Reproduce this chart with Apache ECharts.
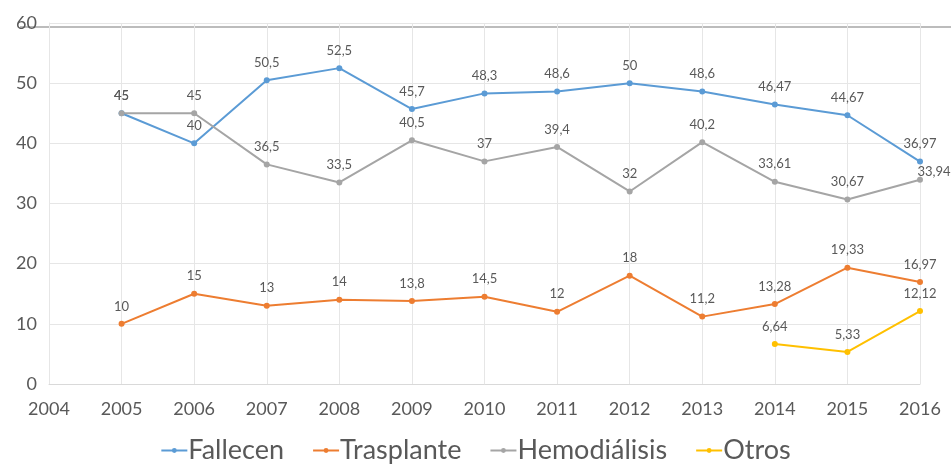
<!DOCTYPE html>
<html>
<head>
<meta charset="utf-8">
<script src="https://cdn.jsdelivr.net/npm/echarts@6/dist/echarts.min.js"></script>
<style>
  html, body { margin: 0; padding: 0; background: #fff; }
  #chart { width: 951px; height: 464px; }
</style>
</head>
<body>
<div id="chart"></div>
<script>
// datos
var years = [2005, 2006, 2007, 2008, 2009, 2010, 2011, 2012, 2013, 2014, 2015, 2016]
var fallecen = [45, 40, 50.5, 52.5, 45.7, 48.3, 48.6, 50, 48.6, 46.47, 44.67, 36.97]
var trasplante = [10, 15, 13, 14, 13.8, 14.5, 12, 18, 11.2, 13.28, 19.33, 16.97]
var hemodialisis = [45, 45, 36.5, 33.5, 40.5, 37, 39.4, 32, 40.2, 33.61, 30.67, 33.94]
var otrosYears = [2014, 2015, 2016]
var otros = [6.64, 5.33, 12.12]

var textColor = '#595959'
var font = 'Lato, "Open Sans", sans-serif'

function pairs (xs, ys) {
  return ys.map(function (v, i) { return [xs[i], v] })
}

function serie (name, xs, ys, color) {
  return {
    name: name,
    type: 'line',
    data: pairs(xs, ys),
    symbol: 'circle',
    symbolSize: 6,
    lineStyle: { width: 2, color: color },
    itemStyle: { color: color },
    label: {
      show: true,
      position: 'top',
      distance: 8,
      color: textColor,
      fontSize: 13,
      fontFamily: font,
      formatter: function (p) { return String(p.value[1]).replace('.', ',') }
    }
  }
}

var hemo = serie('Hemodiálisis', years, hemodialisis, '#A5A5A5')
// la última etiqueta va desplazada a la derecha
var last = hemo.data.length - 1
hemo.data[last] = { value: hemo.data[last], label: { offset: [14, 10] } }

var myChart = echarts.init(document.getElementById('chart'))
myChart.setOption({
  animation: false,
  grid: { left: 49, right: 31, top: 23, bottom: 80 },
  xAxis: {
    type: 'value',
    min: 2004,
    max: 2016,
    interval: 1,
    axisLine: { show: true, lineStyle: { color: '#d9d9d9', width: 1 } },
    axisTick: { show: false },
    splitLine: { show: true, lineStyle: { color: '#e6e6e6' } },
    axisLabel: {
      color: textColor, fontSize: 18, fontFamily: font, margin: 16,
      formatter: function (v) { return String(v) }
    }
  },
  yAxis: {
    type: 'value',
    min: 0,
    max: 60,
    interval: 10,
    axisLine: { show: true, lineStyle: { color: '#e6e6e6' } },
    axisTick: { show: false },
    splitLine: { lineStyle: { color: '#e6e6e6' } },
    axisLabel: { color: textColor, fontSize: 18, fontFamily: font, margin: 12 }
  },
  legend: {
    bottom: -5,
    left: 'center',
    itemGap: 28,
    itemWidth: 26,
    itemHeight: 6,
    textStyle: { color: textColor, fontSize: 27, fontFamily: font, padding: [0, 0, 0, -4] },
    data: ['Fallecen', 'Trasplante', 'Hemodiálisis', 'Otros']
  },
  graphic: [{
    type: 'line',
    shape: { x1: 20, y1: 27, x2: 951, y2: 27 },
    style: { stroke: '#a6a6a6', lineWidth: 1.5 },
    z: -1
  }],
  series: [
    serie('Fallecen', years, fallecen, '#5B9BD5'),
    serie('Trasplante', years, trasplante, '#ED7D31'),
    hemo,
    serie('Otros', otrosYears, otros, '#FFC000')
  ]
})
</script>
</body>
</html>
